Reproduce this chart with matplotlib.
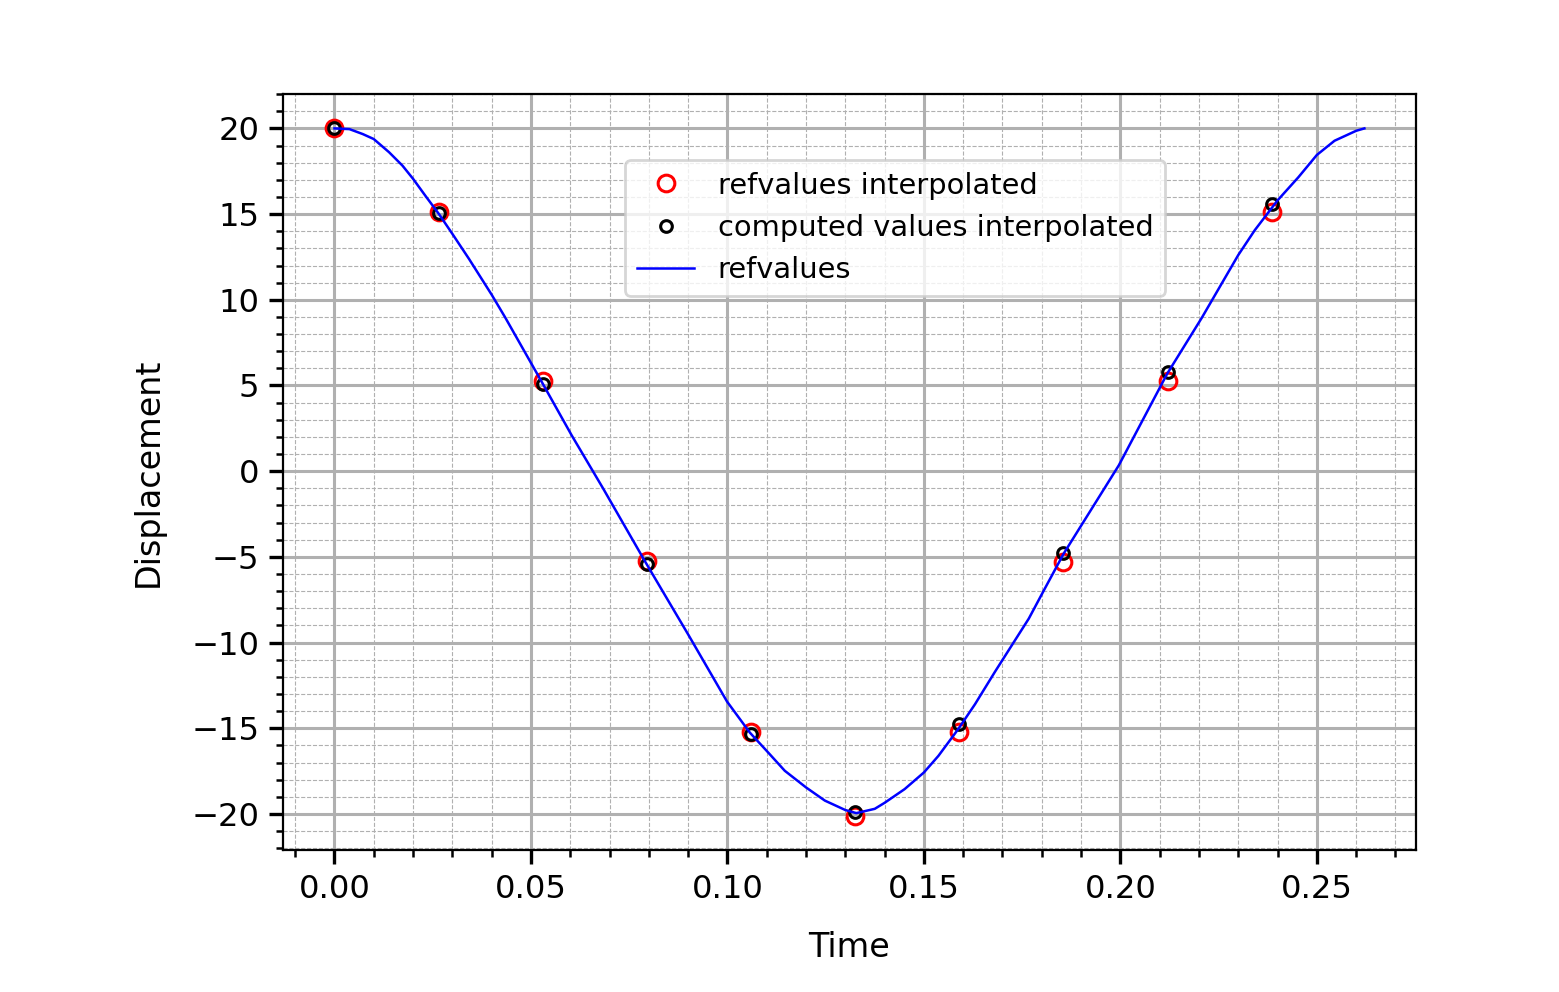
import numpy as np
import matplotlib
matplotlib.use("Agg")
import matplotlib.pyplot as plt
from matplotlib.ticker import MultipleLocator

# sample times of the interpolated points
t_points = [0.0, 0.0265, 0.053, 0.0795, 0.106, 0.1325, 0.159, 0.1855, 0.212, 0.2385]
ref_interp = [20.0, 15.15, 5.25, -5.25, -15.2, -20.1, -15.2, -5.3, 5.25, 15.15]
computed_interp = [20.0, 15.05, 5.1, -5.4, -15.35, -19.9, -14.75, -4.75, 5.8, 15.6]

# reference curve
t_ref = [0.0, 0.0038, 0.0072, 0.01, 0.0139, 0.0173, 0.02, 0.0232, 0.0266, 0.03,
         0.0342, 0.04, 0.0435, 0.0528, 0.0604, 0.0684, 0.0791, 0.0901, 0.0999,
         0.1057, 0.11, 0.1146, 0.12, 0.1248, 0.13, 0.1328, 0.1375, 0.14, 0.1451,
         0.15, 0.1537, 0.1587, 0.163, 0.1681, 0.1767, 0.1808, 0.1856, 0.1996,
         0.2119, 0.2207, 0.23, 0.2342, 0.24, 0.2453, 0.25, 0.2545, 0.26, 0.2621]
disp_ref = [20.0, 19.96, 19.67, 19.38, 18.61, 17.83, 17.06, 16.05, 15.0, 13.85,
            12.4, 10.3, 8.95, 5.19, 2.08, -1.02, -5.29, -9.56, -13.44,
            -15.25, -16.32, -17.48, -18.45, -19.22, -19.77, -19.95, -19.7, -19.35, -18.55,
            -17.58, -16.61, -15.06, -13.6, -11.7, -8.6, -6.84, -4.8, 0.34,
            5.68, 8.94, 12.61, 14.06, 15.8, 17.15, 18.45, 19.28, 19.86, 20.0]

plt.rcParams["font.size"] = 11.6

fig = plt.figure(figsize=(7.795, 4.96), dpi=200)
ax = fig.add_axes([0.1815, 0.1431, 0.7267, 0.7621])

ax.plot(t_points, ref_interp, "o", mfc="none", mec="red", ms=6, mew=1.1,
        label="refvalues interpolated")
ax.plot(t_points, computed_interp, "o", mfc="none", mec="black", ms=4.2, mew=1.1,
        label="computed values interpolated")
ax.plot(t_ref, disp_ref, color="blue", lw=0.9, label="refvalues")

ax.xaxis.set_major_locator(MultipleLocator(0.05))
ax.xaxis.set_minor_locator(MultipleLocator(0.01))
ax.yaxis.set_major_locator(MultipleLocator(5))
ax.yaxis.set_minor_locator(MultipleLocator(1))
ax.tick_params(which="major", length=5, width=1.2)
ax.tick_params(which="minor", length=2.5, width=0.9)

ax.grid(True, which="major", color="#b0b0b0", lw=1.1)
ax.grid(True, which="minor", color="#b0b0b0", lw=0.4, ls="--")
ax.set_axisbelow(True)

ax.set_xlabel("Time", fontsize=12, labelpad=9.5)
ax.set_ylabel("Displacement", fontsize=12, labelpad=9.5)

ax.legend(loc="upper left", bbox_to_anchor=(0.302, 0.9127), borderaxespad=0,
          fontsize=10.4)

fig.savefig("out.png", dpi=200)
